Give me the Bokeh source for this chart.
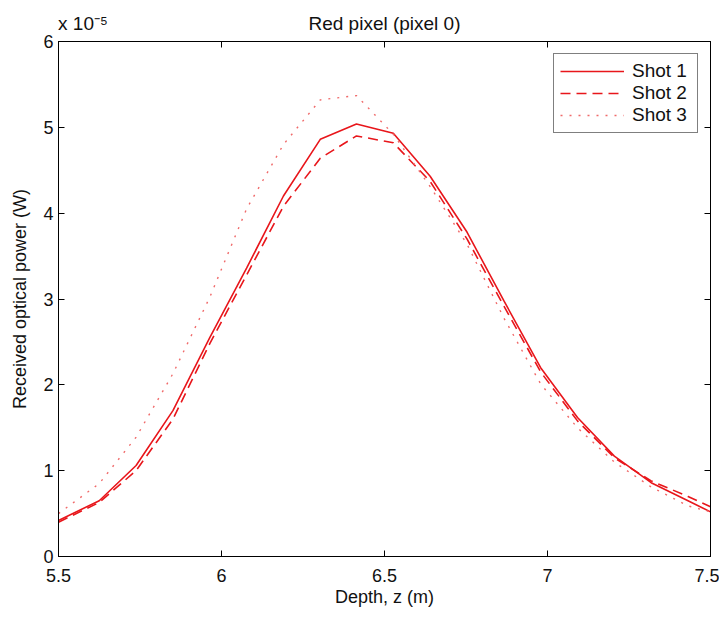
from bokeh.plotting import figure
from bokeh.models import (Range1d, LinearAxis, FixedTicker, CustomJSTickFormatter,
                          Legend, LegendItem)
from bokeh.embed import file_html
from bokeh.resources import INLINE

# ---- data (received optical power in units of 1e-5 W) ----
depth = [5.50, 5.625, 5.738, 5.851, 5.964, 6.077, 6.190, 6.303, 6.414, 6.527,
         6.640, 6.753, 6.866, 6.979, 7.092, 7.205, 7.318, 7.431, 7.50]
shot1 = [0.42, 0.65, 1.06, 1.70, 2.55, 3.36, 4.20, 4.86, 5.04, 4.93,
         4.43, 3.78, 2.98, 2.20, 1.62, 1.17, 0.86, 0.65, 0.52]
shot2 = [0.40, 0.63, 1.00, 1.60, 2.48, 3.28, 4.08, 4.64, 4.90, 4.82,
         4.37, 3.70, 2.92, 2.15, 1.58, 1.15, 0.88, 0.70, 0.58]
shot3 = [0.50, 0.85, 1.39, 2.13, 3.02, 4.05, 4.80, 5.32, 5.37, 4.92,
         4.31, 3.64, 2.78, 2.01, 1.50, 1.10, 0.81, 0.59, 0.52]
x_ticks = [5.5, 6.0, 6.5, 7.0, 7.5]
y_ticks = [0, 1, 2, 3, 4, 5, 6]
series_names = ["Shot 1", "Shot 2", "Shot 3"]
title_text = "Red pixel (pixel 0)"
exponent_text = "x 10\u207b\u2075"
top_text_anchors = [5.575, 6.5]
top_texts = [exponent_text, title_text]

FONT = "Liberation Sans"

p = figure(width=719, height=611, output_backend="svg", toolbar_location=None,
           x_range=Range1d(5.5, 7.5), y_range=Range1d(0, 6),
           frame_width=652, frame_height=515,
           min_border_left=58, min_border_right=9, min_border_top=41, min_border_bottom=55,
           background_fill_color="white", border_fill_color="white")
p.title.visible = False
p.outline_line_color = "black"
p.outline_line_width = 1
p.xgrid.visible = False
p.ygrid.visible = False

fmt = CustomJSTickFormatter(code="return tick.toString();")
blank = CustomJSTickFormatter(code="return '';")
top_fmt = CustomJSTickFormatter(args=dict(anchors=top_text_anchors, texts=top_texts), code="""
let best = 0;
for (let i = 1; i < anchors.length; i++) {
  if (Math.abs(anchors[i] - tick) < Math.abs(anchors[best] - tick)) best = i;
}
return texts[best];
""")

def style(ax, labels=True):
    ax.axis_line_color = "black"
    ax.major_tick_line_color = "black"
    ax.major_tick_in = 6
    ax.major_tick_out = 0
    ax.minor_tick_line_color = None
    ax.major_label_text_font = FONT
    ax.major_label_text_font_size = "18px" if labels else "0px"
    ax.major_label_text_color = "#111111"
    ax.axis_label_text_font = FONT
    ax.axis_label_text_font_size = "18px"
    ax.axis_label_text_font_style = "normal"
    ax.axis_label_text_color = "#111111"

xa = p.xaxis[0]
xa.ticker = FixedTicker(ticks=x_ticks)
xa.formatter = fmt
xa.axis_label = "Depth, z (m)"
style(xa)
xa.major_label_standoff = 12
xa.axis_label_standoff = 2

ya = p.yaxis[0]
ya.ticker = FixedTicker(ticks=y_ticks)
ya.formatter = fmt
ya.axis_label = "Received optical power (W)"
style(ya)
ya.major_label_standoff = 5
ya.axis_label_standoff = 10

top_ax = LinearAxis(ticker=FixedTicker(ticks=x_ticks), formatter=blank)
style(top_ax, labels=False)
top_ax.major_label_standoff = 0
p.add_layout(top_ax, "above")

# title and exponent multiplier, set on one text row above the frame
text_ax = LinearAxis(ticker=FixedTicker(ticks=top_text_anchors), formatter=top_fmt)
style(text_ax)
text_ax.axis_line_color = None
text_ax.major_tick_line_color = None
text_ax.major_tick_in = 0
text_ax.major_label_text_font_size = "19px"
text_ax.major_label_standoff = 8
p.add_layout(text_ax, "above")

right_ax = LinearAxis(ticker=FixedTicker(ticks=y_ticks), formatter=blank)
style(right_ax, labels=False)
right_ax.major_label_standoff = 0
p.add_layout(right_ax, "right")

r1 = p.line(depth, shot1, line_color="#e8161b", line_width=1.6)
r2 = p.line(depth, shot2, line_color="#e8161b", line_width=1.6, line_dash="10 6")
r3 = p.line(depth, shot3, line_color="#f06a6a", line_width=1.4, line_dash="2 7")

legend = Legend(items=[LegendItem(label=series_names[0], renderers=[r1]),
                       LegendItem(label=series_names[1], renderers=[r2]),
                       LegendItem(label=series_names[2], renderers=[r3])],
                location="top_right", margin=12, padding=6, spacing=0,
                glyph_width=64, glyph_height=18, label_height=18,
                label_width=59, label_standoff=8,
                label_text_font=FONT, label_text_font_size="19px",
                label_text_color="#111111",
                border_line_color="black", border_line_width=1,
                background_fill_color="white", background_fill_alpha=1)
p.add_layout(legend)

open("out.html", "w").write(file_html(p, INLINE))
